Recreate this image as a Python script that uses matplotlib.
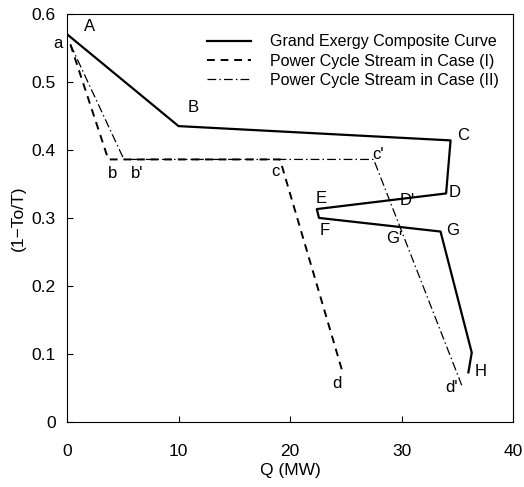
import matplotlib
matplotlib.use('Agg')
import matplotlib.pyplot as plt

plt.rcParams['font.family'] = ['Liberation Sans', 'DejaVu Sans']

# grand exergy composite curve A-B-C-D-E-F-G-H
gcc_q = [0.0, 10.0, 34.4, 34.0, 22.4, 22.6, 33.5, 36.3, 36.0]
gcc_y = [0.570, 0.435, 0.414, 0.336, 0.313, 0.300, 0.280, 0.102, 0.073]

# power cycle stream, case (I): a-b-c-d
case1_q = [0.3, 3.7, 19.1, 24.7]
case1_y = [0.555, 0.386, 0.386, 0.074]

# power cycle stream, case (II): a-b'-c'-d'
case2_q = [0.3, 5.1, 27.5, 35.4]
case2_y = [0.555, 0.386, 0.386, 0.054]

point_labels = ['A', 'a', 'B', 'b', "b'", 'C', "c'", 'c', 'E', 'D', "D'",
                'F', "G'", 'G', 'H', 'd', "d'"]
label_q = [2.0, -0.8, 11.3, 4.1, 6.3, 35.5, 27.9, 18.7, 22.8, 34.8, 30.5,
           23.1, 29.3, 34.6, 37.1, 24.2, 34.5]
label_y = [0.582, 0.557, 0.462, 0.366, 0.366, 0.421, 0.393, 0.368, 0.329,
           0.337, 0.326, 0.282, 0.270, 0.282, 0.074, 0.057, 0.050]

fig = plt.figure(figsize=(5.24, 4.87), dpi=100)
ax = fig.add_axes([0.128, 0.1335, 0.851, 0.838])

ax.plot(gcc_q, gcc_y, color='black', lw=1.6, label='Grand Exergy Composite Curve')
ax.plot(case1_q, case1_y, color='black', lw=1.4, linestyle=(0, (4, 3)),
        label='Power Cycle Stream in Case (I)')
ax.plot(case2_q, case2_y, color='black', lw=0.9, linestyle=(0, (7, 2.5, 1.2, 2.5)),
        label='Power Cycle Stream in Case (II)')

for txt, q, y in zip(point_labels, label_q, label_y):
    ax.text(q, y, txt, fontsize=12, ha='center', va='center', clip_on=False)

ax.set_xlim(0, 40)
ax.set_ylim(0, 0.6)
ax.set_xticks([0, 10, 20, 30, 40])
ax.set_yticks([0, 0.1, 0.2, 0.3, 0.4, 0.5, 0.6])
ax.set_yticklabels(['0', '0.1', '0.2', '0.3', '0.4', '0.5', '0.6'])
ax.tick_params(direction='in', length=4, labelsize=12.5)
ax.tick_params(axis='x', pad=16)
ax.tick_params(axis='y', pad=8)
ax.set_xlabel('Q (MW)', fontsize=12.5, labelpad=3)
ax.set_ylabel('(1\u2212To/T)', fontsize=12.5, labelpad=4)

ax.legend(loc='upper right', bbox_to_anchor=(1.0, 0.985), frameon=False,
          fontsize=11.5, handlelength=2.7, handletextpad=1.2, labelspacing=0.27)

fig.savefig('out.png', dpi=100)
